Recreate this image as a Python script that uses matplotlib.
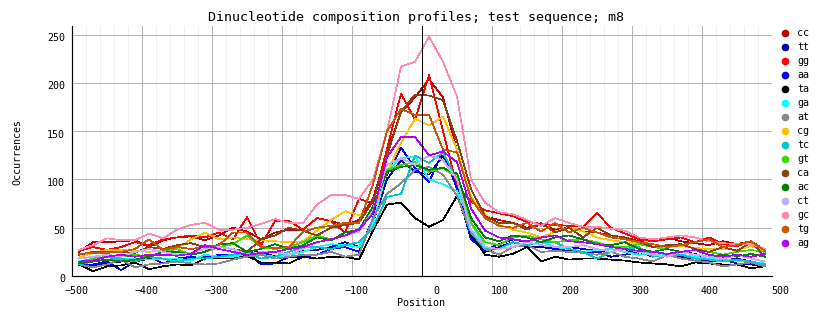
import numpy as np
import matplotlib
matplotlib.use("Agg")
import matplotlib.pyplot as plt
from matplotlib.transforms import ScaledTranslation

plt.rcParams['font.family'] = ['DejaVu Sans Mono']

# window centres, step 20
positions = list(range(-490, 500, 20))

names = ["cc", "tt", "gg", "aa", "ta", "ga", "at", "cg",
         "tc", "gt", "ca", "ac", "ct", "gc", "tg", "ag"]
colors = ["#c00000", "#0000a8", "#ff0000", "#0000ff", "#000000", "#00ffff",
          "#888888", "#ffc000", "#00c8c8", "#44d400", "#8b4010", "#008000",
          "#c8aaff", "#ff88b8", "#c85800", "#b000ff"]

cc = [25, 35, 35, 36, 37, 30, 37, 40, 41, 37, 42, 50, 46, 38, 45, 48, 48, 60, 57, 53,
      58, 80, 128, 170, 185, 204, 185, 130, 82, 62, 58,
      55, 50, 53, 48, 50, 46, 45, 42, 40, 36, 38, 40, 36, 34, 32, 36, 33, 36, 25]
tt = [11, 10, 13, 15, 15, 18, 18, 17, 18, 20, 20, 22, 24, 25, 20, 22, 26, 27, 30, 35,
      30, 55, 100, 120, 108, 105, 125, 95, 40, 25, 30,
      35, 30, 30, 28, 26, 25, 25, 20, 22, 25, 20, 22, 20, 18, 15, 17, 13, 12, 10]
gg = [26, 30, 27, 30, 35, 32, 38, 40, 42, 40, 45, 38, 61, 32, 57, 57, 48, 60, 57, 45,
      80, 75, 132, 189, 162, 208, 150, 93, 77, 68, 65,
      62, 56, 54, 53, 52, 51, 65, 50, 44, 38, 36, 38, 40, 35, 40, 33, 31, 36, 27]
aa = [12, 12, 15, 6, 15, 20, 13, 18, 20, 18, 22, 22, 25, 12, 13, 20, 20, 22, 28, 30,
      25, 60, 105, 133, 112, 97, 130, 90, 38, 27, 33,
      38, 35, 32, 28, 30, 28, 26, 25, 28, 22, 23, 20, 25, 23, 17, 16, 18, 15, 12]
ta = [12, 5, 10, 11, 14, 7, 10, 12, 11, 18, 19, 19, 21, 14, 14, 13, 20, 18, 20, 20,
      17, 47, 74, 76, 60, 51, 58, 83, 44, 22, 20,
      23, 30, 15, 20, 17, 18, 18, 17, 16, 14, 13, 12, 10, 14, 13, 12, 12, 8, 10]
ga = [15, 18, 17, 17, 18, 17, 18, 18, 16, 22, 20, 20, 23, 22, 20, 22, 25, 30, 33, 32,
      30, 55, 110, 122, 124, 100, 95, 88, 55, 30, 28,
      30, 32, 35, 30, 28, 25, 27, 28, 25, 22, 23, 20, 22, 20, 18, 17, 16, 14, 13]
at = [12, 9, 12, 17, 9, 12, 13, 15, 13, 12, 13, 17, 20, 22, 18, 20, 22, 22, 25, 20,
      22, 60, 85, 96, 110, 113, 105, 83, 45, 28, 22,
      30, 32, 25, 26, 25, 24, 22, 25, 20, 18, 15, 22, 18, 16, 14, 10, 12, 14, 10]
cg = [19, 24, 27, 27, 26, 25, 27, 28, 38, 45, 38, 40, 38, 37, 36, 35, 36, 47, 58, 67,
      63, 67, 107, 138, 163, 156, 165, 131, 82, 64, 53,
      48, 45, 40, 46, 50, 46, 40, 37, 35, 34, 30, 30, 31, 29, 28, 28, 27, 31, 26]
tc = [12, 15, 17, 18, 15, 20, 18, 15, 18, 18, 20, 22, 25, 18, 20, 25, 30, 30, 28, 32,
      35, 50, 82, 85, 125, 117, 128, 100, 45, 28, 28,
      35, 32, 35, 35, 28, 25, 18, 25, 28, 30, 20, 22, 22, 18, 17, 15, 17, 15, 12]
gt = [14, 18, 20, 20, 22, 20, 25, 28, 22, 25, 30, 33, 42, 30, 28, 30, 35, 42, 38, 42,
      47, 70, 110, 115, 118, 108, 112, 102, 55, 35, 32,
      40, 42, 38, 35, 37, 38, 35, 30, 30, 33, 30, 28, 25, 27, 25, 22, 25, 27, 25]
ca = [22, 25, 25, 25, 24, 30, 28, 32, 34, 30, 30, 28, 25, 38, 42, 50, 47, 42, 50, 53,
      55, 78, 125, 170, 188, 187, 182, 140, 90, 62, 55,
      55, 48, 55, 45, 50, 40, 50, 42, 40, 35, 30, 32, 33, 28, 25, 30, 26, 35, 20]
ac = [13, 15, 17, 15, 17, 20, 25, 25, 22, 25, 33, 34, 25, 28, 33, 28, 32, 40, 37, 45,
      48, 72, 108, 113, 115, 110, 112, 106, 60, 40, 36,
      42, 40, 35, 40, 42, 38, 33, 32, 35, 28, 25, 28, 25, 22, 20, 22, 20, 23, 20]
ct = [18, 20, 22, 20, 25, 28, 25, 22, 24, 28, 30, 28, 22, 25, 25, 22, 28, 35, 38, 42,
      46, 68, 115, 122, 115, 125, 120, 100, 48, 30, 28,
      30, 35, 32, 30, 30, 32, 28, 25, 28, 25, 22, 20, 25, 22, 20, 18, 22, 18, 15]
gc = [27, 32, 39, 37, 37, 44, 39, 48, 53, 55, 48, 48, 50, 54, 59, 55, 55, 74, 84, 84,
      80, 100, 150, 217, 222, 248, 222, 186, 100, 76, 66,
      64, 58, 52, 60, 55, 51, 51, 49, 47, 40, 38, 40, 42, 40, 36, 34, 33, 33, 28]
tg = [23, 24, 24, 25, 28, 38, 27, 30, 28, 30, 32, 45, 45, 30, 29, 30, 46, 50, 52, 55,
      55, 95, 150, 173, 167, 167, 131, 128, 80, 60, 52,
      50, 55, 46, 55, 45, 50, 45, 40, 38, 35, 33, 30, 32, 35, 38, 30, 32, 36, 26]
ag = [15, 16, 20, 22, 20, 22, 22, 21, 23, 32, 28, 25, 22, 24, 25, 28, 30, 35, 38, 42,
      48, 65, 123, 144, 144, 125, 129, 118, 70, 47, 40,
      38, 36, 40, 42, 36, 35, 33, 30, 28, 26, 25, 23, 25, 27, 22, 20, 22, 20, 23]

series = [cc, tt, gg, aa, ta, ga, at, cg, tc, gt, ca, ac, ct, gc, tg, ag]

W, H = 834, 328
PX = 72 / 100  # one pixel in points at dpi 100
fig = plt.figure(figsize=(W / 100, H / 100), dpi=100)
ax = fig.add_axes([72 / W, (H - 276) / H, 700 / W, 250 / H])

ax.set_xlim(-500, 500)
ax.set_ylim(0, 259)

ax.set_xticks(np.arange(-500, 501, 100))
ax.set_xticks([x for x in range(-480, 500, 20) if x % 100], minor=True)
ax.set_yticks(np.arange(0, 251, 50))
ax.grid(which='major', color='#b4b4b4', lw=PX, antialiased=False)
ax.grid(which='minor', axis='x', color='#f0f0f0', lw=PX, antialiased=False)
ax.set_axisbelow(True)

for s in ['top', 'right']:
    ax.spines[s].set_visible(False)
for s in ['left', 'bottom']:
    ax.spines[s].set_linewidth(1.2 * PX)

ax.tick_params(which='both', length=0, labelsize=7.2)
ax.tick_params(axis='x', pad=7)
ax.tick_params(axis='y', pad=5)

# gd-style labels: x labels right aligned past the grid line
for lab in ax.get_xticklabels():
    lab.set_horizontalalignment('right')
    lab.set_transform(lab.get_transform() + ScaledTranslation(0.17, 0, fig.dpi_scale_trans))
for lab in ax.get_yticklabels():
    lab.set_transform(lab.get_transform() + ScaledTranslation(0, -0.025, fig.dpi_scale_trans))

# thin one-pixel profile lines
for vals, c in zip(series, colors):
    ax.plot(positions, vals, color=c, lw=0.5, antialiased=False)

ax.axvline(0, color='black', lw=PX, antialiased=False)

fig.text(416.5 / W, 1 - 18 / H, "Dinucleotide composition profiles; test sequence; m8",
         ha='center', va='center', fontsize=9.6)
fig.text(421 / W, 1 - 303 / H, "Position", ha='center', va='center', fontsize=7.2)
fig.text(17 / W, 1 - 152 / H, "Occurrences", ha='center', va='center',
         rotation=90, fontsize=7.2)

# legend column on the right
for k, (n, c) in enumerate(zip(names, colors)):
    yy = 1 - (33.3 + 14 * k) / H
    fig.add_artist(plt.Line2D([784.5 / W], [yy], marker='o', markersize=4.5,
                              color=c, ls='none'))
    fig.text(797 / W, yy, n, ha='left', va='center', fontsize=7.2)

fig.savefig("out.png", dpi=100)
